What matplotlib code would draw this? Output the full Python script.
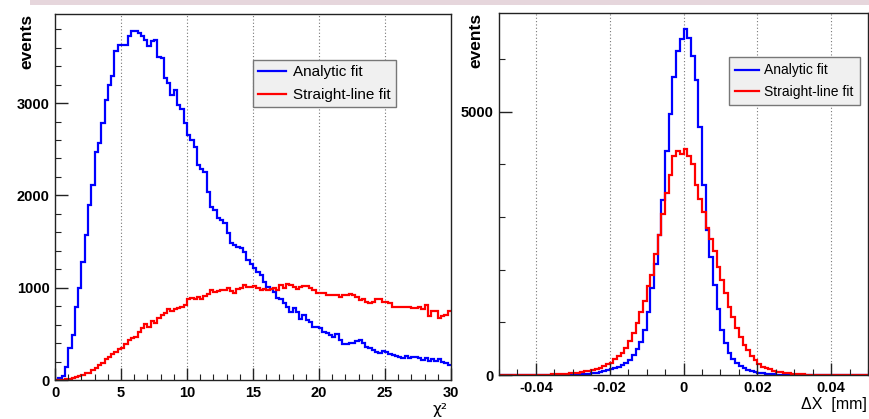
import numpy as np
import matplotlib
matplotlib.use("Agg")
import matplotlib.pyplot as plt
from matplotlib.patches import Rectangle
from matplotlib.lines import Line2D

plt.rcParams['font.family'] = ['Liberation Sans', 'DejaVu Sans']

# ---------------- data ----------------
chi2_range = (0, 30)
chi2_nbins = 120
blue_chi2 = [3, 18, 43, 144, 343, 487, 794, 993, 1282, 1570, 1895, 2112, 2470, 2565, 2785,
             3030, 3195, 3290, 3565, 3630, 3630, 3630, 3727, 3780, 3780, 3762, 3727, 3684,
             3620, 3676, 3684, 3503, 3485, 3268, 3214, 3088, 3142, 2979, 2932, 2780, 2654,
             2600, 2520,
             2330, 2290, 2250, 2040, 1878, 1842, 1751, 1733, 1697, 1589, 1488, 1463, 1437,
             1427, 1391, 1300, 1260,
             1210, 1174, 1138, 1066, 1012, 983, 958, 893, 875, 831, 788, 741, 784, 741, 657,
             704, 650, 632, 571, 571, 560, 524, 506, 488, 469, 498, 433, 390, 390, 400,
             405, 420, 433, 398, 361, 343, 325, 307, 289, 318, 307, 282, 271, 260, 246, 235,
             260, 235, 246, 253, 235, 217, 235, 210, 224, 210, 224, 199, 188, 163]
red_chi2 = [0, 2, 5, 10, 15, 20, 35, 45, 51, 72, 80, 108, 134, 159, 188, 224, 253, 278, 303,
            332, 350, 386, 433, 458, 469, 520, 567, 603, 578, 639, 621, 675, 701, 730, 766,
            748, 773, 784, 795, 809, 881, 892, 881, 903, 881, 910, 928, 975, 953, 964, 975,
            975, 1000, 964, 946, 989, 1000, 1026, 1011, 1010,
            1018, 997, 978, 982, 978, 988, 997, 978, 1028, 992, 1038, 1026, 1008, 991, 1012,
            1014, 1022, 1002, 975, 942, 942, 942, 922, 924, 924, 924, 897, 919, 924, 928,
            921, 903, 867, 874, 849, 838, 849, 874, 874, 849, 849, 831, 787, 795, 795, 795,
            787, 787, 777, 777, 787, 766, 813, 693, 751, 751, 668, 693, 704, 751]

dx_range = (-0.05, 0.05)
dx_nbins = 100
blue_dx = [0, 0, 0, 0, 0, 0, 0, 0, 0, 0, 0, 0, 0, 0, 1,
           1, 2, 3, 4, 6, 8, 11, 15, 20, 27, 35, 45, 58, 72, 88, 105, 125, 150, 185,
           230, 290, 380, 490, 620, 850, 1200, 1650, 2100, 2650, 3324, 4250, 4950, 5650,
           6150, 6380, 6570,
           6400, 6050, 5600, 4700, 3600, 2750, 2250, 1700, 1250, 850, 600, 420, 300, 230,
           170, 125, 95, 70, 52, 40, 30, 22, 16, 11, 8, 6, 4, 3, 2,
           1, 1, 1, 0, 0, 0, 0, 0, 0, 0, 0, 0, 0, 0, 0, 0, 0, 0, 0, 0]
red_dx = [0, 0, 0, 1, 1, 2, 2, 3, 4, 4, 5, 6, 7, 9, 11, 13, 16, 20, 25, 30,
          35, 45, 55, 68, 82, 100, 120, 140, 165, 200, 235, 300, 370, 420, 510, 650, 800,
          980, 1200, 1400, 1690, 1900, 2300, 2650, 3050, 3450, 3800, 4150, 4250, 4200, 4300,
          4150, 4000, 3600, 3350, 3100, 2800, 2580, 2350, 2050, 1800, 1550, 1300, 1100, 900,
          720, 570, 470, 370, 280, 200, 158, 130, 105, 85, 65, 50, 40, 30, 22, 17, 13, 10,
          8, 6, 5, 4, 3, 2, 2, 1, 1, 1, 1, 0, 0, 0, 0, 0, 0]

legend_labels = ["Analytic fit", "Straight-line fit"]
left_xticks = [0, 5, 10, 15, 20, 25, 30]
left_yticks = [0, 1000, 2000, 3000]
right_xticks = [-0.04, -0.02, 0, 0.02, 0.04]
right_xticklabels = ["-0.04", "-0.02", "0", "0.02", "0.04"]
right_yticks = [0, 5000]

assert len(blue_chi2) == chi2_nbins and len(red_chi2) == chi2_nbins
assert len(blue_dx) == dx_nbins and len(red_dx) == dx_nbins

BLUE = "#0000ff"
RED = "#ff0000"
LW = 1.6

W, H = 870, 419
fig = plt.figure(figsize=(W / 100, H / 100), dpi=100)

# slide band at top
fig.patches.append(Rectangle((30 / W, 1 - 5 / H), 1, 5 / H, transform=fig.transFigure,
                             facecolor="#e6d6dc", edgecolor="none", zorder=0))


def px_axes(x0, y0, x1, y1):
    return fig.add_axes([x0 / W, 1 - y1 / H, (x1 - x0) / W, (y1 - y0) / H])


ax1 = px_axes(55, 14, 451, 380)
ax2 = px_axes(499, 13, 868, 375)

for ax in (ax1, ax2):
    for s in ax.spines.values():
        s.set_color("#222222")
        s.set_linewidth(1.0)
    ax.tick_params(direction="in", which="major", length=9, width=1.0, color="#222222",
                   top=False, right=False, labelsize=10.5, pad=4)
    ax.tick_params(direction="in", which="minor", length=4.5, width=0.8, color="#222222",
                   top=False, right=False)

# ----- left panel -----
edges1 = np.linspace(chi2_range[0], chi2_range[1], chi2_nbins + 1)
ax1.stairs(blue_chi2, edges1, color=BLUE, linewidth=LW, baseline=None)
ax1.stairs(red_chi2, edges1, color=RED, linewidth=LW, baseline=None)
ax1.set_xlim(*chi2_range)
ax1.set_ylim(0, 3965)
ax1.set_xticks(left_xticks)
ax1.set_xticks(np.arange(0, 31, 1), minor=True)
ax1.set_yticks(left_yticks)
ax1.set_yticks(np.arange(0, 3965, 200), minor=True)
ax1.set_xticklabels([str(t) for t in left_xticks], fontweight="bold", fontsize=10.5)
ax1.set_yticklabels([str(t) for t in left_yticks], fontweight="bold", fontsize=10.5)
for t in left_xticks[1:-1]:
    ax1.axvline(t, color="#777777", linestyle=(0, (1, 2)), linewidth=0.8, zorder=0)
ax1.text(-0.0707, 1.0, "events", transform=ax1.transAxes, rotation=90, ha="center",
         va="top", fontsize=12.5, fontweight="bold")
ax1.text(0.99, -0.06, "\u03c7\u00b2", transform=ax1.transAxes, ha="right", va="top",
         fontsize=11, family=["DejaVu Sans"])

h = [Line2D([], [], color=BLUE, lw=LW), Line2D([], [], color=RED, lw=LW)]
leg1 = ax1.legend(h, legend_labels, loc="upper left", bbox_to_anchor=(0.5, 0.874),
                  fancybox=False, frameon=True, edgecolor="#777777", facecolor="#f0f0f0",
                  framealpha=1, fontsize=11, handlelength=1.8, handletextpad=0.5,
                  borderpad=0.35, labelspacing=0.55, borderaxespad=0)
leg1.get_frame().set_linewidth(1.0)

# ----- right panel -----
edges2 = np.linspace(dx_range[0], dx_range[1], dx_nbins + 1)
ax2.stairs(blue_dx, edges2, color=BLUE, linewidth=LW, baseline=None)
ax2.stairs(red_dx, edges2, color=RED, linewidth=LW, baseline=None)
ax2.set_xlim(*dx_range)
ax2.set_ylim(0, 6874)
ax2.set_xticks(right_xticks)
ax2.set_xticks(np.arange(-0.05, 0.0501, 0.005), minor=True)
ax2.set_yticks(right_yticks)
ax2.set_yticks(np.arange(0, 6874, 1000), minor=True)
ax2.set_xticklabels(right_xticklabels, fontweight="bold", fontsize=10.5)
ax2.set_yticklabels([str(t) for t in right_yticks], fontweight="bold", fontsize=10.5)
for t in right_xticks:
    ax2.axvline(t, color="#777777", linestyle=(0, (1, 2)), linewidth=0.8, zorder=0)
ax2.text(-0.062, 1.0, "events", transform=ax2.transAxes, rotation=90, ha="center",
         va="top", fontsize=12.5, fontweight="bold")
ax2.text(0.997, -0.06, "\u0394X  [mm]", transform=ax2.transAxes, ha="right", va="top",
         fontsize=11.5)
leg2 = ax2.legend(h, legend_labels, loc="upper left", bbox_to_anchor=(0.623, 0.878),
                  fancybox=False, frameon=True, edgecolor="#777777", facecolor="#f0f0f0",
                  framealpha=1, handlelength=1.7, handletextpad=0.4,
                  prop={"size": 10},
                  borderpad=0.45, labelspacing=0.55, borderaxespad=0)
leg2.get_frame().set_linewidth(1.0)

fig.savefig("out.png", dpi=100)
